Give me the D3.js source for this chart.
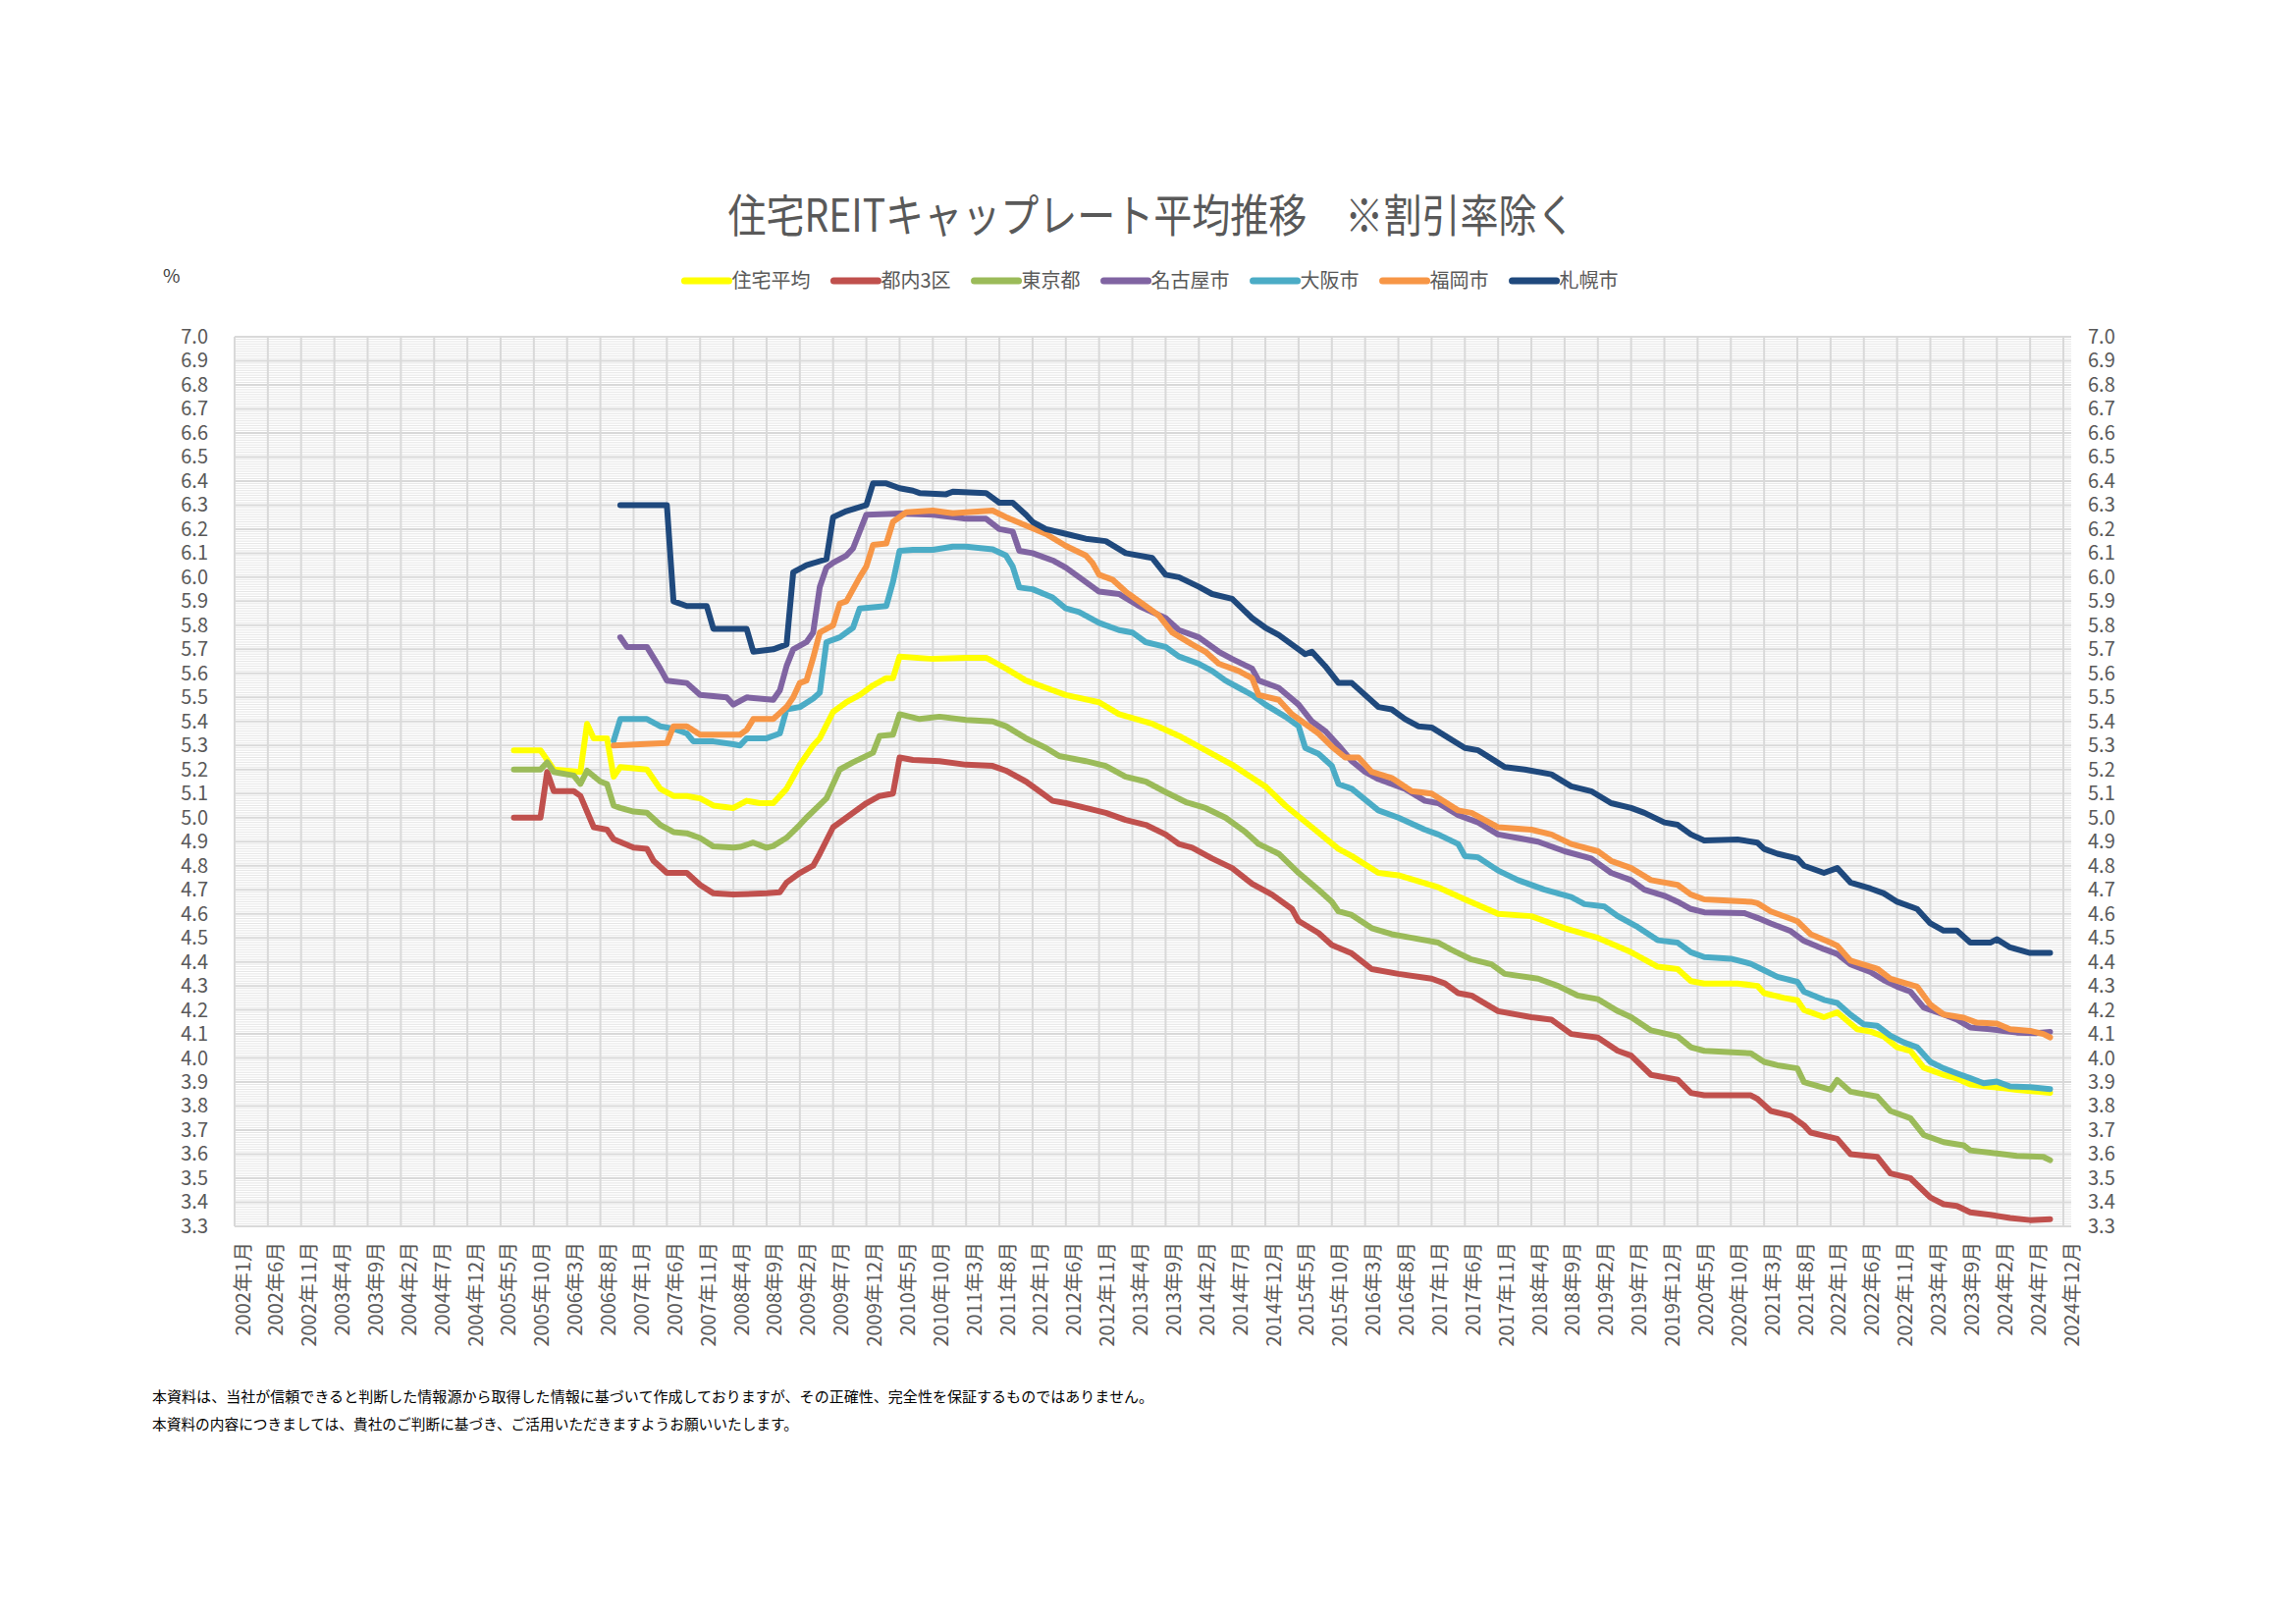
<!DOCTYPE html>
<html><head><meta charset="utf-8">
<script src="https://cdn.jsdelivr.net/npm/d3@7/dist/d3.min.js"></script>
<style>html,body{margin:0;padding:0;background:#fff}</style>
</head><body>
<svg id="chart" width="2339" height="1653"></svg>
<script>
// ---------- data ----------
const titleText = "住宅REITキャップレート平均推移　※割引率除く";
const seriesNames = ["住宅平均","都内3区","東京都","名古屋市","大阪市","福岡市","札幌市"];
const seriesColors = ["#FFFF00","#C0504D","#9BBB59","#8064A2","#4BACC6","#F79646","#1F497D"];
const yTicks = [3.3,3.4,3.5,3.6,3.7,3.8,3.9,4.0,4.1,4.2,4.3,4.4,4.5,4.6,4.7,4.8,4.9,5.0,5.1,5.2,5.3,5.4,5.5,5.6,5.7,5.8,5.9,6.0,6.1,6.2,6.3,6.4,6.5,6.6,6.7,6.8,6.9,7.0];
const tickLabels = ["2002年1月","2002年6月","2002年11月","2003年4月","2003年9月","2004年2月","2004年7月","2004年12月","2005年5月","2005年10月","2006年3月","2006年8月","2007年1月","2007年6月","2007年11月","2008年4月","2008年9月","2009年2月","2009年7月","2009年12月","2010年5月","2010年10月","2011年3月","2011年8月","2012年1月","2012年6月","2012年11月","2013年4月","2013年9月","2014年2月","2014年7月","2014年12月","2015年5月","2015年10月","2016年3月","2016年8月","2017年1月","2017年6月","2017年11月","2018年4月","2018年9月","2019年2月","2019年7月","2019年12月","2020年5月","2020年10月","2021年3月","2021年8月","2022年1月","2022年6月","2022年11月","2023年4月","2023年9月","2024年2月","2024年7月","2024年12月"];
const notes = ["本資料は、当社が信頼できると判断した情報源から取得した情報に基づいて作成しておりますが、その正確性、完全性を保証するものではありません。","本資料の内容につきましては、貴社のご判断に基づき、ご活用いただきますようお願いいたします。"];

const sJutaku = [["2005-07",5.28],["2005-11",5.28],["2006-01",5.20],["2006-05",5.19],["2006-06",5.39],["2006-07",5.33],["2006-09",5.33],["2006-10",5.17],["2006-11",5.21],["2007-03",5.20],["2007-05",5.12],["2007-07",5.09],["2007-09",5.09],["2007-11",5.08],["2008-01",5.05],["2008-04",5.04],["2008-06",5.07],["2008-08",5.06],["2008-10",5.06],["2008-12",5.12],["2009-02",5.22],["2009-04",5.30],["2009-05",5.33],["2009-07",5.44],["2009-09",5.48],["2009-11",5.51],["2010-01",5.55],["2010-03",5.58],["2010-04",5.58],["2010-05",5.67],["2010-10",5.66],["2011-03",5.665],["2011-06",5.665],["2011-09",5.62],["2011-12",5.57],["2012-03",5.54],["2012-06",5.51],["2012-11",5.48],["2013-02",5.43],["2013-07",5.39],["2013-11",5.34],["2014-03",5.28],["2014-07",5.22],["2014-12",5.13],["2015-03",5.05],["2015-07",4.96],["2015-11",4.87],["2016-01",4.84],["2016-05",4.77],["2016-08",4.76],["2017-02",4.71],["2017-06",4.66],["2017-11",4.60],["2018-04",4.59],["2018-09",4.54],["2019-02",4.50],["2019-07",4.44],["2019-11",4.38],["2020-02",4.37],["2020-04",4.32],["2020-06",4.31],["2020-11",4.31],["2021-02",4.30],["2021-03",4.27],["2021-06",4.25],["2021-08",4.24],["2021-09",4.20],["2021-12",4.17],["2022-02",4.19],["2022-05",4.12],["2022-07",4.11],["2022-09",4.09],["2022-11",4.045],["2023-01",4.03],["2023-03",3.96],["2023-06",3.93],["2023-08",3.915],["2023-10",3.89],["2024-01",3.88],["2024-03",3.875],["2024-05",3.868],["2024-08",3.86],["2024-10",3.855]];
const sTonai3 = [["2005-07",5.00],["2005-11",5.00],["2005-12",5.19],["2006-01",5.11],["2006-04",5.11],["2006-05",5.09],["2006-07",4.96],["2006-09",4.95],["2006-10",4.91],["2007-01",4.875],["2007-03",4.87],["2007-04",4.82],["2007-06",4.77],["2007-09",4.77],["2007-11",4.72],["2008-01",4.685],["2008-04",4.68],["2008-09",4.685],["2008-11",4.69],["2008-12",4.73],["2009-02",4.77],["2009-04",4.80],["2009-05",4.85],["2009-07",4.96],["2009-09",5.00],["2009-12",5.06],["2010-02",5.09],["2010-04",5.10],["2010-05",5.25],["2010-07",5.24],["2010-11",5.235],["2011-03",5.22],["2011-07",5.215],["2011-09",5.195],["2011-12",5.15],["2012-02",5.11],["2012-04",5.07],["2012-06",5.06],["2012-09",5.04],["2012-12",5.02],["2013-03",4.99],["2013-06",4.97],["2013-09",4.93],["2013-11",4.89],["2014-01",4.875],["2014-04",4.83],["2014-07",4.79],["2014-10",4.725],["2015-01",4.68],["2015-04",4.62],["2015-05",4.57],["2015-08",4.52],["2015-10",4.47],["2016-01",4.435],["2016-04",4.37],["2016-08",4.35],["2017-01",4.33],["2017-03",4.31],["2017-05",4.27],["2017-07",4.26],["2017-11",4.195],["2018-04",4.17],["2018-07",4.16],["2018-10",4.10],["2019-02",4.085],["2019-05",4.03],["2019-07",4.01],["2019-10",3.93],["2020-02",3.91],["2020-04",3.855],["2020-06",3.845],["2021-01",3.845],["2021-02",3.83],["2021-04",3.78],["2021-07",3.76],["2021-09",3.72],["2021-10",3.69],["2022-02",3.664],["2022-04",3.60],["2022-08",3.589],["2022-10",3.52],["2023-01",3.50],["2023-04",3.42],["2023-06",3.392],["2023-08",3.385],["2023-10",3.358],["2024-01",3.348],["2024-04",3.335],["2024-07",3.326],["2024-10",3.33]];
const sTokyo = [["2005-07",5.20],["2005-11",5.20],["2005-12",5.23],["2006-01",5.19],["2006-04",5.175],["2006-05",5.14],["2006-06",5.195],["2006-08",5.15],["2006-09",5.14],["2006-10",5.05],["2006-11",5.04],["2007-01",5.025],["2007-03",5.02],["2007-05",4.97],["2007-07",4.94],["2007-09",4.935],["2007-11",4.915],["2008-01",4.88],["2008-04",4.875],["2008-05",4.878],["2008-07",4.896],["2008-09",4.875],["2008-10",4.882],["2008-12",4.916],["2009-02",4.97],["2009-03",5.0],["2009-06",5.08],["2009-08",5.20],["2009-10",5.23],["2010-01",5.27],["2010-02",5.34],["2010-04",5.345],["2010-05",5.43],["2010-08",5.41],["2010-11",5.42],["2011-03",5.406],["2011-07",5.40],["2011-09",5.38],["2011-12",5.33],["2012-03",5.29],["2012-05",5.256],["2012-09",5.235],["2012-12",5.215],["2013-03",5.17],["2013-06",5.15],["2013-09",5.106],["2013-12",5.065],["2014-03",5.04],["2014-06",5.0],["2014-09",4.94],["2014-11",4.89],["2015-02",4.85],["2015-05",4.77],["2015-08",4.70],["2015-10",4.65],["2015-11",4.61],["2016-01",4.595],["2016-04",4.54],["2016-07",4.515],["2016-10",4.50],["2017-02",4.48],["2017-04",4.45],["2017-07",4.41],["2017-10",4.39],["2017-12",4.35],["2018-05",4.33],["2018-08",4.30],["2018-11",4.26],["2019-02",4.245],["2019-05",4.195],["2019-07",4.17],["2019-10",4.115],["2020-02",4.09],["2020-04",4.045],["2020-06",4.03],["2021-01",4.02],["2021-03",3.984],["2021-05",3.97],["2021-08",3.957],["2021-09",3.90],["2022-01",3.868],["2022-02",3.909],["2022-04",3.86],["2022-08",3.84],["2022-10",3.78],["2023-01",3.75],["2023-03",3.68],["2023-06",3.65],["2023-09",3.637],["2023-10",3.616],["2024-02",3.603],["2024-05",3.593],["2024-09",3.589],["2024-10",3.575]];
const sNagoya = [["2006-11",5.75],["2006-12",5.71],["2007-03",5.71],["2007-05",5.62],["2007-06",5.57],["2007-09",5.56],["2007-11",5.51],["2008-03",5.50],["2008-04",5.47],["2008-06",5.50],["2008-10",5.49],["2008-11",5.53],["2008-12",5.63],["2009-01",5.70],["2009-03",5.73],["2009-04",5.77],["2009-05",5.96],["2009-06",6.04],["2009-07",6.06],["2009-09",6.09],["2009-10",6.12],["2009-12",6.26],["2010-05",6.265],["2010-10",6.26],["2011-03",6.243],["2011-06",6.243],["2011-08",6.20],["2011-10",6.19],["2011-11",6.11],["2012-01",6.10],["2012-04",6.07],["2012-06",6.04],["2012-08",6.0],["2012-11",5.94],["2013-02",5.93],["2013-05",5.88],["2013-09",5.83],["2013-11",5.78],["2014-02",5.75],["2014-05",5.69],["2014-07",5.66],["2014-10",5.62],["2014-11",5.57],["2015-02",5.54],["2015-05",5.47],["2015-07",5.40],["2015-09",5.36],["2015-11",5.30],["2016-01",5.235],["2016-03",5.19],["2016-05",5.16],["2016-09",5.12],["2016-12",5.07],["2017-02",5.06],["2017-05",5.01],["2017-08",4.98],["2017-11",4.93],["2018-02",4.915],["2018-05",4.90],["2018-09",4.86],["2019-01",4.83],["2019-04",4.77],["2019-07",4.74],["2019-09",4.70],["2019-12",4.675],["2020-02",4.65],["2020-04",4.62],["2020-06",4.606],["2020-12",4.603],["2021-02",4.583],["2021-04",4.56],["2021-07",4.528],["2021-09",4.487],["2021-12",4.453],["2022-02",4.433],["2022-04",4.39],["2022-07",4.358],["2022-09",4.324],["2022-11",4.297],["2023-01",4.276],["2023-03",4.21],["2023-06",4.181],["2023-08",4.16],["2023-10",4.127],["2024-01",4.12],["2024-03",4.113],["2024-05",4.106],["2024-08",4.104],["2024-10",4.109]];
const sOsaka = [["2006-10",5.32],["2006-11",5.41],["2007-03",5.41],["2007-05",5.38],["2007-07",5.37],["2007-09",5.35],["2007-10",5.317],["2008-01",5.317],["2008-04",5.305],["2008-05",5.30],["2008-06",5.33],["2008-09",5.33],["2008-11",5.35],["2008-12",5.45],["2009-02",5.46],["2009-04",5.495],["2009-05",5.52],["2009-06",5.73],["2009-08",5.75],["2009-10",5.79],["2009-11",5.87],["2010-03",5.88],["2010-04",5.98],["2010-05",6.11],["2010-07",6.114],["2010-10",6.114],["2011-01",6.127],["2011-03",6.127],["2011-07",6.116],["2011-09",6.09],["2011-10",6.045],["2011-11",5.957],["2012-01",5.95],["2012-04",5.916],["2012-06",5.87],["2012-08",5.855],["2012-11",5.81],["2013-02",5.78],["2013-04",5.77],["2013-06",5.73],["2013-09",5.71],["2013-11",5.67],["2014-02",5.64],["2014-04",5.61],["2014-06",5.57],["2014-08",5.54],["2014-10",5.51],["2014-12",5.47],["2015-03",5.42],["2015-05",5.38],["2015-06",5.29],["2015-08",5.265],["2015-10",5.215],["2015-11",5.14],["2016-01",5.12],["2016-05",5.03],["2016-08",5.0],["2016-12",4.95],["2017-02",4.93],["2017-05",4.89],["2017-06",4.84],["2017-08",4.835],["2017-11",4.78],["2018-02",4.74],["2018-06",4.70],["2018-10",4.67],["2018-12",4.64],["2019-03",4.63],["2019-05",4.59],["2019-08",4.545],["2019-11",4.49],["2020-02",4.48],["2020-04",4.44],["2020-06",4.42],["2020-10",4.413],["2021-01",4.392],["2021-03",4.365],["2021-05",4.338],["2021-08",4.317],["2021-09",4.276],["2021-12",4.242],["2022-02",4.229],["2022-04",4.18],["2022-06",4.14],["2022-08",4.134],["2022-10",4.093],["2022-12",4.065],["2023-02",4.045],["2023-04",3.984],["2023-06",3.957],["2023-08",3.936],["2023-10",3.916],["2023-12",3.895],["2024-02",3.902],["2024-04",3.882],["2024-07",3.879],["2024-10",3.871]];
const sFukuoka = [["2006-10",5.30],["2007-06",5.31],["2007-07",5.38],["2007-09",5.38],["2007-11",5.345],["2008-05",5.345],["2008-06",5.365],["2008-07",5.41],["2008-10",5.41],["2008-12",5.46],["2009-01",5.50],["2009-02",5.56],["2009-03",5.57],["2009-04",5.665],["2009-05",5.77],["2009-07",5.80],["2009-08",5.89],["2009-09",5.90],["2009-11",6.0],["2009-12",6.045],["2010-01",6.134],["2010-03",6.14],["2010-04",6.23],["2010-06",6.27],["2010-10",6.277],["2011-01",6.266],["2011-03",6.27],["2011-07",6.277],["2011-09",6.25],["2011-12",6.215],["2012-03",6.18],["2012-06",6.13],["2012-09",6.09],["2012-10",6.06],["2012-11",6.01],["2013-01",5.99],["2013-03",5.94],["2013-06",5.88],["2013-08",5.84],["2013-10",5.77],["2014-01",5.72],["2014-03",5.69],["2014-05",5.64],["2014-08",5.61],["2014-10",5.58],["2014-11",5.51],["2015-02",5.49],["2015-04",5.43],["2015-06",5.39],["2015-08",5.35],["2015-10",5.295],["2015-12",5.25],["2016-02",5.25],["2016-04",5.19],["2016-07",5.165],["2016-10",5.11],["2017-01",5.10],["2017-05",5.03],["2017-07",5.02],["2017-11",4.96],["2018-04",4.95],["2018-07",4.93],["2018-10",4.89],["2019-02",4.86],["2019-04",4.82],["2019-07",4.79],["2019-10",4.74],["2020-02",4.72],["2020-04",4.68],["2020-06",4.66],["2021-01",4.65],["2021-02",4.644],["2021-04",4.61],["2021-08",4.569],["2021-10",4.515],["2022-01",4.48],["2022-02",4.467],["2022-04",4.405],["2022-08",4.372],["2022-10",4.33],["2023-02",4.297],["2023-04",4.222],["2023-06",4.181],["2023-09",4.168],["2023-11",4.147],["2024-02",4.143],["2024-04",4.12],["2024-07",4.113],["2024-09",4.10],["2024-10",4.086]];
const sSapporo = [["2006-11",6.30],["2007-06",6.30],["2007-07",5.90],["2007-09",5.88],["2007-12",5.88],["2008-01",5.785],["2008-06",5.785],["2008-07",5.69],["2008-10",5.70],["2008-12",5.72],["2009-01",6.02],["2009-03",6.05],["2009-06",6.075],["2009-07",6.25],["2009-09",6.275],["2009-12",6.30],["2010-01",6.39],["2010-03",6.39],["2010-05",6.37],["2010-07",6.36],["2010-08",6.35],["2010-12",6.345],["2011-01",6.356],["2011-06",6.35],["2011-08",6.31],["2011-10",6.31],["2011-12",6.26],["2012-01",6.23],["2012-03",6.20],["2012-06",6.18],["2012-09",6.16],["2012-12",6.15],["2013-03",6.10],["2013-07",6.08],["2013-09",6.01],["2013-11",6.00],["2014-02",5.96],["2014-04",5.93],["2014-07",5.91],["2014-10",5.83],["2014-12",5.79],["2015-02",5.76],["2015-05",5.70],["2015-06",5.68],["2015-07",5.69],["2015-09",5.63],["2015-11",5.56],["2016-01",5.56],["2016-05",5.46],["2016-07",5.45],["2016-09",5.41],["2016-11",5.38],["2017-01",5.375],["2017-06",5.29],["2017-08",5.28],["2017-12",5.21],["2018-03",5.20],["2018-07",5.18],["2018-10",5.13],["2019-01",5.11],["2019-04",5.06],["2019-07",5.04],["2019-09",5.02],["2019-12",4.98],["2020-02",4.97],["2020-04",4.93],["2020-06",4.905],["2020-11",4.909],["2021-02",4.896],["2021-03",4.87],["2021-05",4.85],["2021-08",4.83],["2021-09",4.80],["2021-12",4.77],["2022-02",4.79],["2022-04",4.73],["2022-07",4.705],["2022-09",4.685],["2022-11",4.65],["2023-02",4.62],["2023-04",4.56],["2023-06",4.53],["2023-08",4.53],["2023-10",4.48],["2024-01",4.48],["2024-02",4.494],["2024-04",4.46],["2024-07",4.437],["2024-10",4.437]];
const seriesData = [sJutaku, sTonai3, sTokyo, sNagoya, sOsaka, sFukuoka, sSapporo];

// ---------- layout ----------
const FONT = "'Noto Sans CJK JP','Noto Sans',sans-serif";
const M = {left:239, right:2102, top:343, bottom:1249};
const svg = d3.select("#chart");
svg.append("rect").attr("width",2339).attr("height",1653).attr("fill","#fff");

const fmtM = d3.timeFormat("%Y-%m");
const categories = d3.timeMonth.range(new Date(2002,0,1), new Date(2025,0,1)).map(fmtM);
const tickCats = categories.filter((d,i)=> i%5===0);

const x = d3.scalePoint().domain(categories).range([M.left, M.right]);
const y = d3.scaleLinear().domain([3.3,7.0]).range([M.bottom, M.top]);

// minor horizontal gridlines
const minor = d3.range(330, 701).map(v=>v/100).filter(v=> Math.round(v*100)%10!==0);
const grid = svg.append("g");
grid.selectAll("line.mn").data(minor).join("line")
  .attr("x1",M.left).attr("x2",M.right+8)
  .attr("y1",d=>y(d)).attr("y2",d=>y(d))
  .attr("stroke","#E6E6E6").attr("stroke-width",1);
// major horizontal
grid.selectAll("line.mj").data(yTicks).join("line")
  .attr("x1",M.left).attr("x2",M.right+8)
  .attr("y1",d=>y(d)).attr("y2",d=>y(d))
  .attr("stroke","#D9D9D9").attr("stroke-width",2);
// vertical gridlines
grid.selectAll("line.v").data(tickCats).join("line")
  .attr("x1",d=>x(d)).attr("x2",d=>x(d))
  .attr("y1",M.top).attr("y2",M.bottom)
  .attr("stroke","#D9D9D9").attr("stroke-width",2);

// axes
const yl = svg.append("g").attr("transform",`translate(212,0)`)
  .call(d3.axisLeft(y).tickValues(yTicks).tickFormat(d3.format(".1f")).tickSize(0).tickPadding(0));
const yr = svg.append("g").attr("transform",`translate(2127,0)`)
  .call(d3.axisRight(y).tickValues(yTicks).tickFormat(d3.format(".1f")).tickSize(0).tickPadding(0));
[yl,yr].forEach(g=>{
  g.select(".domain").remove();
  g.selectAll("text").attr("font-family",FONT).attr("font-size",20).attr("fill","#595959");
});

const xa = svg.append("g").attr("transform",`translate(0,${M.bottom})`)
  .call(d3.axisBottom(x).tickValues(tickCats).tickFormat((d,i)=>tickLabels[i]).tickSize(0));
xa.select(".domain").remove();
xa.selectAll(".tick text")
  .attr("font-family",FONT).attr("font-size",20).attr("fill","#595959")
  .attr("text-anchor","end").attr("y",0).attr("dy","0.35em")
  .attr("transform","translate(8,16) rotate(-90)");

// series lines
const line = d3.line().x(d=>x(d[0])).y(d=>y(d[1]));
svg.append("g").selectAll("path").data(seriesData).join("path")
  .attr("d",line).attr("fill","none")
  .attr("stroke",(d,i)=>seriesColors[i]).attr("stroke-width",6)
  .attr("stroke-linejoin","round").attr("stroke-linecap","round");

// title
svg.append("text").attr("x",1173).attr("y",236).attr("text-anchor","middle")
  .attr("font-family",FONT).attr("font-size",46).attr("fill","#595959")
  .attr("textLength",863).attr("lengthAdjust","spacingAndGlyphs")
  .text(titleText);

// % label
svg.append("text").attr("x",166).attr("y",288)
  .attr("font-family",FONT).attr("font-size",19).attr("fill","#404040").text("%");

// legend
const lg = svg.append("g");
const items = lg.selectAll("g").data(seriesNames).join("g");
items.append("line").attr("x1",0).attr("x2",45).attr("y1",0).attr("y2",0)
  .attr("stroke",(d,i)=>seriesColors[i]).attr("stroke-width",7).attr("stroke-linecap","round");
items.append("text").attr("x",48).attr("y",0).attr("dy","0.36em")
  .attr("font-family",FONT).attr("font-size",20).attr("fill","#595959").text(d=>d);
const widths = items.nodes().map(n=> 48 + n.querySelector("text").getComputedTextLength());
const gap = 24;
const total = d3.sum(widths) + gap*(widths.length-1);
let cx = 1173 - total/2;
items.attr("transform",(d,i)=>{ const t=`translate(${cx},286)`; cx += widths[i]+gap; return t; });

// notes
svg.selectAll("text.note").data(notes).join("text").attr("class","note")
  .attr("x",155).attr("y",(d,i)=>1428+i*28)
  .attr("font-family",FONT).attr("font-size",15).attr("fill","#000")
  .attr("textLength",(d,i)=> i===0?1020:658).attr("lengthAdjust","spacingAndGlyphs")
  .text(d=>d);
</script>
</body></html>
